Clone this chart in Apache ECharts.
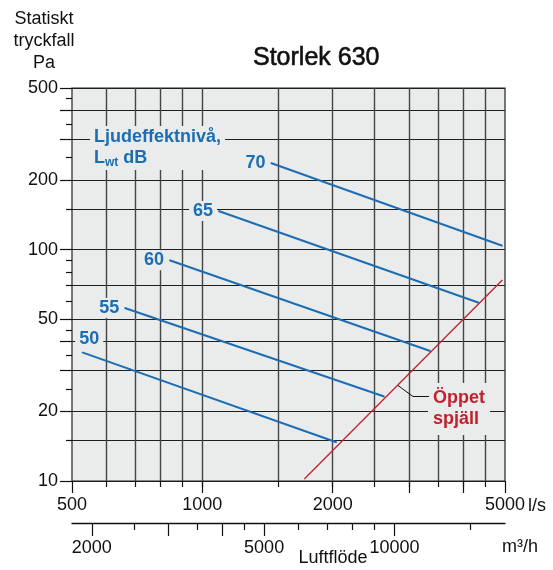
<!DOCTYPE html>
<html>
<head>
<meta charset="utf-8">
<script src="https://cdn.jsdelivr.net/npm/echarts@6/dist/echarts.min.js"></script>
<style>
  html, body { margin: 0; padding: 0; background: #fff; }
  #chart { width: 553px; height: 570px; }
</style>
</head>
<body>
<div id="chart"></div>
<script>
const palette = {
  ink: '#111111',
  gridH: '#1e1e1e',
  gridV: '#454545',
  plotBg: '#e9ecea',
  blue: '#1c6db4',
  red: '#c3202f',
};
const FONT = '"Liberation Sans", Arial, Helvetica, sans-serif';

// Ljudeffektnivå, Lwt dB: straight lines, start -> end (l/s, Pa)
const soundLevels = [50, 55, 60, 65, 70];
const flowStart = [528, 662, 840, 1090, 1440];
const paStart = [36.0, 56, 90, 147, 237];
const flowEnd = [2040, 2630, 3360, 4350, 4930];
const paEnd = [14.7, 23.2, 36.5, 59, 104];

// Öppet spjäll
const damperFlow = [1720, 4930];
const damperPa = [10.2, 74];

// ticks and grid
const flowLabels = [500, 1000, 2000, 5000];
const flowLongTicks = [500, 1000, 2000, 3000, 4000, 5000];
const flowGrid = [600, 700, 800, 900, 1000, 1500, 2000, 2500, 3000, 3500, 4000, 4500];
const paLabels = [10, 20, 50, 100, 200, 500];
const paLongGrid = [10, 20, 30, 40, 50, 100, 200, 300, 400, 500];
const paMidGrid = [15, 70, 150];
const paShortTicks = [25, 35, 45, 60, 80, 90, 250, 350, 450];
const m3hLabels = [2000, 5000, 10000];
const m3hLongTicks = [2000, 3000, 4000, 5000, 10000];
const m3hShortTicks = [2500, 3500, 4500, 6000, 7000, 8000, 9000, 15000];

const M3H_PER_LS = 3.6;
const flowMin = 500, flowMax = 5000;
const paMin = 10, paMax = 500;

// ---------- axis helpers ----------

const hidden = {
  axisLine: { show: false }, axisTick: { show: false },
  axisLabel: { show: false }, splitLine: { show: false },
};
const tickLine = { color: palette.ink, width: 1.2 };
const labelText = {
  color: palette.ink, fontSize: 18, fontFamily: FONT,
  formatter: (v) => String(Math.round(v)),
};

function flowAxis(opt) {
  return Object.assign({ type: 'log', min: flowMin, max: flowMax, position: 'bottom' }, hidden, opt);
}
function m3hAxis(opt) {
  return Object.assign({
    type: 'log', min: flowMin * M3H_PER_LS, max: flowMax * M3H_PER_LS,
    position: 'bottom', offset: 42,
  }, hidden, opt);
}
function paAxis(opt) {
  return Object.assign({ type: 'log', min: paMin, max: paMax, position: 'left' }, hidden, opt);
}

const xAxes = [
  flowAxis({}),
  flowAxis({
    axisTick: { show: true, length: 6, customValues: flowGrid, lineStyle: tickLine },
    splitLine: { show: true, lineStyle: { color: palette.gridV, width: 1.4 } },
  }),
  flowAxis({
    axisTick: { show: true, length: 12, customValues: flowLongTicks, lineStyle: tickLine },
    axisLabel: Object.assign({ show: true, customValues: flowLabels, margin: 15 }, labelText),
  }),
  m3hAxis({
    axisLine: { show: true, lineStyle: { color: palette.ink, width: 1.3 } },
    axisTick: { show: true, length: 13, customValues: m3hLongTicks, lineStyle: tickLine },
    axisLabel: Object.assign({ show: true, customValues: m3hLabels, margin: 16 }, labelText),
  }),
  m3hAxis({
    axisTick: { show: true, length: 7, customValues: m3hShortTicks, lineStyle: tickLine },
  }),
];

const yAxes = [
  paAxis({}),
  paAxis({
    axisTick: { show: true, length: 12, customValues: paLongGrid, lineStyle: tickLine },
    splitLine: { show: true, lineStyle: { color: palette.gridH, width: 1.1 } },
    axisLabel: Object.assign({ show: true, customValues: paLabels, margin: 14 }, labelText),
  }),
  paAxis({
    axisTick: { show: true, length: 6, customValues: paMidGrid, lineStyle: tickLine },
    splitLine: { show: true, lineStyle: { color: palette.gridH, width: 1.1 } },
  }),
  paAxis({
    axisTick: { show: true, length: 6, customValues: paShortTicks, lineStyle: tickLine },
  }),
];

// ---------- series ----------

const levelLabelBase = {
  show: true, color: palette.blue, fontSize: 18, fontWeight: 'bold', fontFamily: FONT,
  backgroundColor: palette.plotBg, padding: [1, 4],
};

function levelLabel(i) {
  const pos = i === 0
    ? { position: 'top', distance: 3, offset: [7, 0] }
    : { position: 'left', distance: 1 };
  return Object.assign({ formatter: String(soundLevels[i]) }, levelLabelBase, pos);
}

const levelSeries = soundLevels.map((lv, i) => ({
  name: lv + ' dB',
  type: 'line',
  xAxisIndex: 0, yAxisIndex: 0,
  data: [
    { value: [flowStart[i], paStart[i]], label: levelLabel(i) },
    { value: [flowEnd[i], paEnd[i]] },
  ],
  symbol: 'circle', symbolSize: 1, showSymbol: true,
  itemStyle: { color: palette.blue },
  lineStyle: { color: palette.blue, width: 2 },
  label: { show: false },
  silent: true,
  z: 3,
}));

const damperSeries = {
  name: 'Öppet spjäll',
  type: 'line',
  xAxisIndex: 0, yAxisIndex: 0,
  data: damperFlow.map((f, i) => [f, damperPa[i]]),
  symbol: 'none',
  lineStyle: { color: palette.red, width: 1.3 },
  silent: true,
  z: 4,
};

// ---------- annotations ----------

const graphics = [
  {
    type: 'text', x: 44, y: 8, z: 100,
    style: {
      text: 'Statiskt\ntryckfall\nPa', align: 'center', verticalAlign: 'top',
      fontSize: 18, fontFamily: FONT, lineHeight: 22, fill: palette.ink,
    },
  },
  {
    type: 'text', x: 90, y: 126, z: 100,
    style: {
      text: '{b|Ljudeffektnivå,}\n{b|L}{s|wt}{b| dB}',
      align: 'left', verticalAlign: 'top',
      backgroundColor: palette.plotBg, padding: [1, 4],
      rich: {
        b: { fontSize: 18, fontWeight: 'bold', fontFamily: FONT, fill: palette.blue, lineHeight: 21 },
        s: { fontSize: 12, fontWeight: 'bold', fontFamily: FONT, fill: palette.blue, lineHeight: 13, verticalAlign: 'bottom' },
      },
    },
  },
  {
    type: 'text', x: 428, y: 383, z: 100,
    style: {
      text: 'Öppet\nspjäll', align: 'left', verticalAlign: 'top',
      fontSize: 18, fontWeight: 'bold', fontFamily: FONT, lineHeight: 21, fill: palette.red,
      backgroundColor: palette.plotBg, padding: [5, 5],
    },
  },
  {
    type: 'polyline', z: 101,
    shape: { points: [[398, 385.5], [413, 396.5], [429, 396.5]] },
    style: { stroke: palette.ink, lineWidth: 1, fill: null },
  },
  {
    type: 'text', x: 528, y: 506, z: 100,
    style: { text: 'l/s', align: 'left', verticalAlign: 'middle', fontSize: 18, fontFamily: FONT, fill: palette.ink },
  },
  {
    type: 'text', x: 502, y: 547, z: 100,
    style: { text: 'm³/h', align: 'left', verticalAlign: 'middle', fontSize: 18, fontFamily: FONT, fill: palette.ink },
  },
  {
    type: 'text', x: 333, y: 558, z: 100,
    style: { text: 'Luftflöde', align: 'center', verticalAlign: 'middle', fontSize: 18, fontFamily: FONT, fill: palette.ink },
  },
];

const option = {
  animation: false,
  backgroundColor: '#ffffff',
  textStyle: { fontFamily: FONT },
  title: {
    text: 'Storlek 630', left: 253, top: 46, padding: 0,
    textStyle: {
      fontSize: 25, fontWeight: 'normal', fontFamily: FONT, color: palette.ink,
      textBorderColor: palette.ink, textBorderWidth: 0.6,
    },
  },
  grid: {
    left: 72, right: 48, top: 88, bottom: 89,
    show: true, backgroundColor: palette.plotBg,
    borderColor: '#222222', borderWidth: 1.2,
    containLabel: false, outerBoundsMode: 'none',
  },
  xAxis: xAxes,
  yAxis: yAxes,
  series: levelSeries.concat([damperSeries]),
  graphic: graphics,
};

const chart = echarts.init(document.getElementById('chart'), null, { renderer: 'canvas' });
chart.setOption(option);
</script>
</body>
</html>
